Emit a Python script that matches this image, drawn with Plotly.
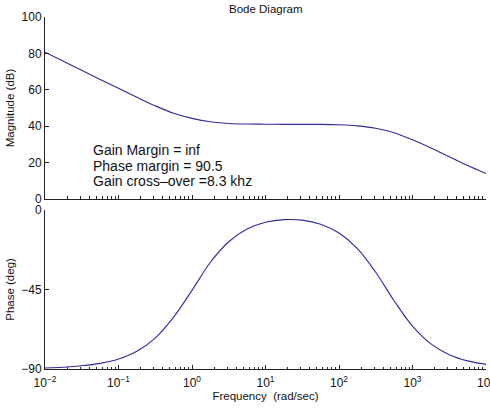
import plotly.graph_objects as go
from plotly.subplots import make_subplots

# ---- data ----
freq = [0.01, 0.0178, 0.0316, 0.0562, 0.1, 0.178, 0.316, 0.562, 1, 1.78, 3.16, 5.62,
        10, 17.8, 31.6, 56.2, 100, 178, 316, 562, 1000, 1780, 3160, 5620, 10000]
magnitude_db = [80.7, 75.7, 70.7, 65.7, 60.8, 55.9, 51.2, 47.1, 44.3, 42.4, 41.5, 41.2,
                41.1, 41.0, 41.0, 41.0, 40.8, 40.2, 38.9, 36.4, 32.5, 28.0, 23.2, 18.4, 14.0]
phase_deg = [-89.4, -89.0, -88.2, -86.8, -84.3, -79.9, -72.5, -60.7, -45.5, -29.6, -18.0, -10.8,
             -7.0, -5.5, -5.8, -8.1, -13.1, -21.9, -35.3, -51.4, -65.8, -75.8, -81.9, -85.4, -87.4]

mag_ticks = [0, 20, 40, 60, 80, 100]
phase_ticks = [-90, -45, 0]
phase_ticklabels = ["\u221290", "\u221245", "0"]
freq_ticks = [0.01, 0.1, 1, 10, 100, 1000, 10000]
freq_ticklabels = ["10<sup>\u22122</sup>", "10<sup>\u22121</sup>", "10<sup>0</sup>",
                   "10<sup>1</sup>", "10<sup>2</sup>", "10<sup>3</sup>", "10<sup>4</sup>"]
minor_ticks = [m * 10 ** e for e in range(-2, 4) for m in range(2, 10)]

title_text = "Bode Diagram"
xlabel = "Frequency  (rad/sec)"
mag_label = "Magnitude (dB)"
phase_label = "Phase (deg)"
notes = ["Gain Margin = inf", "Phase margin = 90.5", "Gain cross\u2013over =8.3 khz"]

FONT = "Liberation Sans, Arial, Helvetica, sans-serif"
LINE = "#2c2c9a"
AX = "#222222"

fig = make_subplots(rows=2, cols=1, shared_xaxes=False)
fig.add_trace(go.Scatter(x=freq, y=magnitude_db, mode="lines",
                         line=dict(color=LINE, width=1.1, shape="spline", smoothing=1.0),
                         showlegend=False, hoverinfo="skip"), row=1, col=1)
fig.add_trace(go.Scatter(x=freq, y=phase_deg, mode="lines",
                         line=dict(color=LINE, width=1.1, shape="spline", smoothing=1.0),
                         showlegend=False, hoverinfo="skip"), row=2, col=1)

xcommon = dict(type="log", range=[-2, 4.00001], showline=True, linecolor=AX, linewidth=1,
               ticks="inside", ticklen=4, tickcolor=AX, tickvals=freq_ticks,
               showgrid=False, zeroline=False, mirror=False, automargin=False,
               minor=dict(tickvals=minor_ticks, ticks="inside", ticklen=2.5,
                          tickcolor=AX, showgrid=False),
               tickfont=dict(family=FONT, size=12, color="#111"))
ycommon = dict(showline=True, linecolor=AX, linewidth=1, ticks="inside", ticklen=4,
               tickcolor=AX, showgrid=False, zeroline=False, mirror=False, automargin=False,
               tickfont=dict(family=FONT, size=12, color="#111"))

fig.update_layout(
    width=490, height=412,
    margin=dict(l=45, r=4, t=17, b=43),
    paper_bgcolor="white", plot_bgcolor="white",
    font=dict(family=FONT, size=11, color="#111"),
    xaxis=dict(xcommon, domain=[0, 1], showticklabels=False, anchor="y"),
    xaxis2=dict(xcommon, domain=[0, 1], ticktext=freq_ticklabels, anchor="y2",
                ticklabeloverflow="allow", ticklabelstandoff=3,
                title=dict(text=xlabel, font=dict(family=FONT, size=11.5), standoff=2)),
    yaxis=dict(ycommon, domain=[0.483, 1], range=[0, 100], tickvals=mag_ticks, anchor="x",
               title=dict(text=mag_label, font=dict(family=FONT, size=11.5), standoff=4)),
    yaxis2=dict(ycommon, domain=[0, 0.452], range=[-90, 0], tickvals=phase_ticks,
                ticktext=phase_ticklabels, anchor="x2",
                title=dict(text=phase_label, font=dict(family=FONT, size=11.5), standoff=4)),
)

fig.add_annotation(text=title_text, xref="paper", yref="paper", x=0.5, y=1.0, yshift=0,
                   xanchor="center", yanchor="bottom", showarrow=False,
                   font=dict(family=FONT, size=11.5, color="#111"))

note_y = [150, 166, 181]
for t, py in zip(notes, note_y):
    fig.add_annotation(text=t, xref="paper", yref="paper",
                       x=(91 - 45) / 441, y=(369 - py) / 352,
                       xanchor="left", yanchor="middle", showarrow=False,
                       font=dict(family=FONT, size=14, color="#111"))

fig.write_html("out.html")
